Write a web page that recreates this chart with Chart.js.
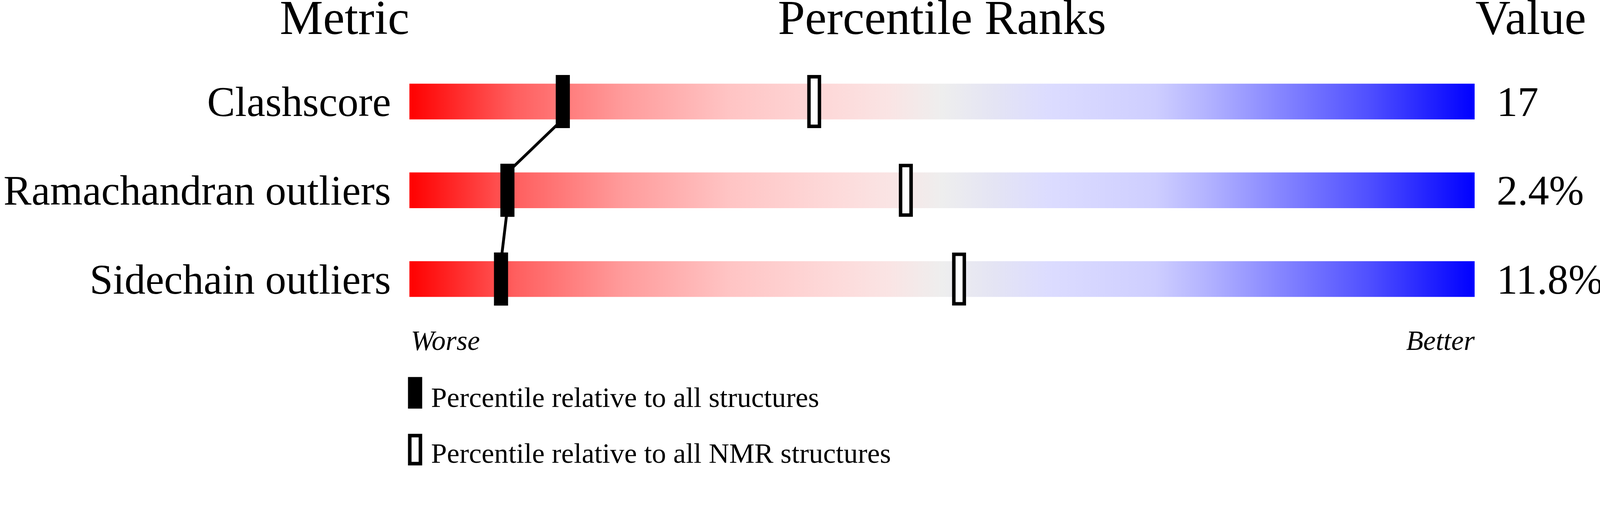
<!DOCTYPE html>
<html>
<head>
<meta charset="utf-8">
<script src="https://cdn.jsdelivr.net/npm/chart.js@4/dist/chart.umd.min.js"></script>
<style>
  html, body { margin: 0; padding: 0; background: #ffffff; overflow: hidden; }
  canvas { display: block; }
</style>
</head>
<body>
<canvas id="c"></canvas>
<script>
// ---- data ----
const metrics = ["Clashscore", "Ramachandran outliers", "Sidechain outliers"];
const valueLabels = ["17", "2.4%", "11.8%"];
const pctAll = [14.4, 9.2, 8.6];   // percentile relative to all structures
const pctNMR = [38.0, 46.6, 51.6]; // percentile relative to all NMR structures
const headers = ["Metric", "Percentile Ranks", "Value"];
const legendLabels = ["Percentile relative to all structures", "Percentile relative to all NMR structures"];
const axisEnds = ["Worse", "Better"];

// ---- layout (designed for a 4506 x 1311 picture, scaled to the CSS viewport) ----
const W = window.innerWidth || 4506;
const H = window.innerHeight || 1311;
const S = W / 4506;
const px = v => v * S;

const FONT = "'Liberation Serif', 'Times New Roman', serif";
const MARK_HALF = 0.65;
const gradStops = [
  [0.00, "rgb(255,0,0)"],
  [0.10, "rgb(255,95,95)"],
  [0.20, "rgb(255,155,155)"],
  [0.30, "rgb(255,196,196)"],
  [0.40, "rgb(253,218,218)"],
  [0.45, "rgb(250,228,228)"],
  [0.50, "rgb(238,238,238)"],
  [0.55, "rgb(228,228,244)"],
  [0.60, "rgb(220,220,255)"],
  [0.70, "rgb(206,206,255)"],
  [0.75, "rgb(178,178,255)"],
  [0.80, "rgb(145,145,255)"],
  [0.90, "rgb(80,80,255)"],
  [1.00, "rgb(0,0,255)"]
];

let gradCache = null;
function barGradient(ctx) {
  const chart = ctx.chart;
  const area = chart.chartArea;
  if (!area) return "#eeeeee";
  const xs = chart.scales.x;
  const x0 = xs.getPixelForValue(0), x1 = xs.getPixelForValue(100);
  if (gradCache && gradCache.x0 === x0 && gradCache.x1 === x1) return gradCache.g;
  const g = chart.ctx.createLinearGradient(x0, 0, x1, 0);
  gradStops.forEach(s => g.addColorStop(s[0], s[1]));
  gradCache = { x0, x1, g };
  return g;
}

const BAR_H = px(100);
const MARK_H = px(149);

const overlay = {
  id: "overlay",
  beforeDatasetsDraw(chart) {
    const c = chart.ctx, xs = chart.scales.x, ys = chart.scales.y;
    c.save();
    c.strokeStyle = "#000";
    c.lineWidth = px(8);
    c.lineCap = "butt";
    for (let i = 0; i < pctAll.length - 1; i++) {
      c.beginPath();
      c.moveTo(xs.getPixelForValue(pctAll[i]), ys.getPixelForValue(i) + BAR_H / 2);
      c.lineTo(xs.getPixelForValue(pctAll[i + 1]), ys.getPixelForValue(i + 1) - BAR_H / 2);
      c.stroke();
    }
    c.restore();
  },
  afterDraw(chart) {
    const c = chart.ctx, xs = chart.scales.x;
    const left = xs.getPixelForValue(0), right = xs.getPixelForValue(100);
    c.save();
    c.fillStyle = "#000";
    // headers
    c.font = px(137) + "px " + FONT;
    c.textBaseline = "alphabetic";
    c.textAlign = "right";
    c.fillText(headers[0], left, px(96));
    c.textAlign = "center";
    c.fillText(headers[1], (left + right) / 2, px(96));
    c.textAlign = "left";
    c.fillText(headers[2], right + px(2), px(96));
    // worse / better
    c.font = "italic " + px(79) + "px " + FONT;
    c.textAlign = "left";
    c.fillText(axisEnds[0], left + px(4), px(986));
    c.textAlign = "right";
    c.fillText(axisEnds[1], right, px(986));
    // legend
    const lx = left - px(4), lw = px(40), lh = px(89);
    c.fillRect(lx, px(1062), lw, lh);
    c.fillStyle = "#fff";
    c.fillRect(lx, px(1222), lw, lh);
    c.strokeStyle = "#000";
    c.lineWidth = px(10);
    c.strokeRect(lx + px(5), px(1227), lw - px(10), lh - px(10));
    c.fillStyle = "#000";
    c.font = px(80) + "px " + FONT;
    c.textAlign = "left";
    c.fillText(legendLabels[0], lx + px(65), px(1146));
    c.fillText(legendLabels[1], lx + px(65), px(1304));
    c.restore();
  }
};

const canvas = document.getElementById("c");
canvas.width = W;
canvas.height = H;
canvas.style.width = W + "px";
canvas.style.height = H + "px";

new Chart(canvas, {
  type: "bar",
  data: {
    labels: metrics,
    datasets: [
      {
        label: "all",
        data: pctAll.map(p => [p - MARK_HALF, p + MARK_HALF]),
        backgroundColor: "#000",
        borderWidth: 0,
        barThickness: MARK_H,
        grouped: false,
        order: 1
      },
      {
        label: "nmr",
        data: pctNMR.map(p => [p - MARK_HALF, p + MARK_HALF]),
        backgroundColor: "#fff",
        borderColor: "#000",
        borderWidth: px(10),
        borderSkipped: false,
        barThickness: MARK_H,
        grouped: false,
        order: 2
      },
      {
        label: "range",
        data: metrics.map(() => 100),
        backgroundColor: barGradient,
        borderWidth: 0,
        barThickness: BAR_H,
        grouped: false,
        order: 3
      }
    ]
  },
  options: {
    indexAxis: "y",
    responsive: false,
    animation: false,
    layout: { padding: { left: 0, right: 0, top: px(161), bottom: H - px(911) } },
    plugins: { legend: { display: false }, tooltip: { enabled: false }, title: { display: false } },
    scales: {
      x: { type: "linear", min: 0, max: 100, display: false },
      y: {
        type: "category",
        position: "left",
        offset: true,
        grid: { display: false, drawTicks: false },
        border: { display: false },
        ticks: { color: "#000", font: { family: FONT, size: px(118) }, padding: px(52), labelOffset: px(10) },
        afterFit(scale) { scale.width = px(1153); }
      },
      y2: {
        type: "category",
        position: "right",
        labels: valueLabels,
        offset: true,
        grid: { display: false, drawTicks: false },
        border: { display: false },
        ticks: { color: "#000", font: { family: FONT, size: px(118) }, padding: px(62), labelOffset: px(10) },
        afterFit(scale) { scale.width = W - px(4153); }
      }
    }
  },
  plugins: [overlay]
});
</script>
</body>
</html>
